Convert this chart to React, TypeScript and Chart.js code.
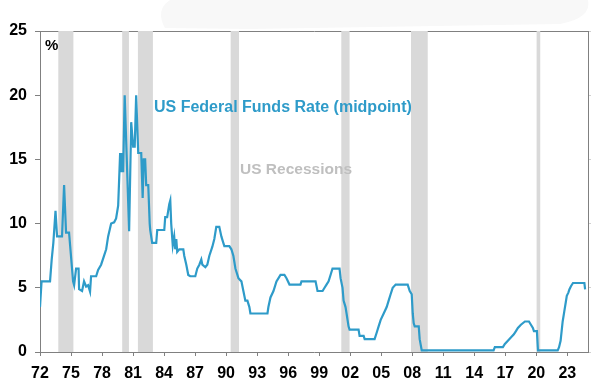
import React, { useEffect, useRef } from "react";
import { Chart, registerables } from "chart.js";

Chart.register(...registerables);

const dates = [
  1972.0, 1972.15, 1972.97, 1973.13, 1973.29, 1973.5, 1973.65, 1974.13, 1974.33, 1974.52,
  1974.81, 1975.2, 1975.3, 1975.49, 1975.73, 1975.78, 1976.07, 1976.26, 1976.46, 1976.65,
  1976.84, 1976.94, 1977.43, 1977.62, 1977.91, 1978.2, 1978.4, 1978.59, 1978.88, 1979.17,
  1979.36, 1979.56, 1979.75, 1979.85, 1979.95, 1980.04, 1980.19, 1980.62, 1980.82, 1981.01,
  1981.16, 1981.3, 1981.5, 1981.79, 1981.93, 1982.03, 1982.17, 1982.27, 1982.47, 1982.61,
  1982.66, 1982.85, 1983.24, 1983.34, 1984.02, 1984.11, 1984.3, 1984.5, 1984.6, 1984.69,
  1984.84, 1984.98, 1985.08, 1985.18, 1985.27, 1985.47, 1985.86, 1985.95, 1986.15, 1986.34,
  1986.53, 1987.02, 1987.21, 1987.41, 1987.6, 1987.7, 1987.99, 1988.18, 1988.38, 1988.67,
  1988.86, 1989.05, 1989.34, 1989.54, 1989.73, 1989.83, 1990.31, 1990.51, 1990.7, 1990.9,
  1991.19, 1991.48, 1991.67, 1991.86, 1992.06, 1992.25, 1992.35, 1994.0, 1994.09, 1994.29,
  1994.58, 1994.87, 1995.26, 1995.64, 1995.84, 1996.13, 1997.19, 1997.29, 1998.65, 1998.84,
  1999.33, 1999.52, 1999.71, 1999.91, 2000.1, 2000.29, 2000.97, 2001.07, 2001.26, 2001.36,
  2001.55, 2001.65, 2001.84, 2001.94, 2002.81, 2002.91, 2003.3, 2003.4, 2004.36, 2004.56,
  2004.75, 2004.95, 2005.24, 2005.53, 2005.72, 2005.91, 2006.11, 2006.4, 2007.56, 2007.76,
  2007.95, 2008.05, 2008.14, 2008.24, 2008.63, 2008.72, 2008.92, 2015.87, 2015.99, 2016.77,
  2016.96, 2017.25, 2017.54, 2017.83, 2018.03, 2018.22, 2018.51, 2018.9, 2019.29, 2019.48,
  2019.67, 2019.77, 2020.06, 2020.16, 2022.07, 2022.2, 2022.35, 2022.45, 2022.55, 2022.7,
  2022.85, 2022.95, 2023.1, 2023.2, 2023.35, 2023.55, 2024.65, 2024.72,
];

const rates = [
  3.5, 5.5, 5.5, 7.2, 8.5, 11, 9, 9, 13, 9.3,
  9.3, 5.5, 5.2, 6.5, 6.5, 4.9, 4.75, 5.5, 5.1, 5.2,
  4.7, 5.9, 5.9, 6.4, 6.8, 7.5, 8.0, 9.0, 10.0, 10.1,
  10.4, 11.4, 15.5, 14, 15.5, 14, 20, 9.4, 17.9, 16,
  16, 20, 15.5, 15.5, 12, 15, 15, 13, 13, 10,
  9.5, 8.5, 8.5, 9.5, 9.5, 10.5, 10.5, 11.5, 11.8, 10,
  8.3, 9, 8, 8.8, 7.8, 8.0, 8.0, 7.5, 6.8, 6.0,
  5.9, 5.9, 6.5, 6.8, 7.2, 6.8, 6.6, 6.8, 7.5, 8.2,
  8.8, 9.75, 9.75, 9.0, 8.5, 8.25, 8.25, 8.0, 7.5, 6.5,
  5.75, 5.5, 4.75, 4.0, 4.0, 3.5, 3.0, 3.0, 3.5, 4.25,
  4.75, 5.5, 6.0, 6.0, 5.75, 5.25, 5.25, 5.5, 5.5, 4.75,
  4.75, 5.0, 5.25, 5.5, 6.0, 6.5, 6.5, 5.75, 5.0, 4.0,
  3.5, 3.0, 2.0, 1.75, 1.75, 1.25, 1.25, 1.0, 1.0, 1.5,
  2.0, 2.5, 3.0, 3.5, 4.0, 4.5, 5.0, 5.25, 5.25, 4.75,
  4.5, 3.0, 2.25, 2.0, 2.0, 1.0, 0.125, 0.125, 0.375, 0.375,
  0.625, 0.875, 1.125, 1.375, 1.625, 1.875, 2.125, 2.375, 2.375, 2.125,
  1.875, 1.625, 1.625, 0.125, 0.125, 0.375, 0.875, 1.625, 2.375, 3.125,
  3.875, 4.375, 4.625, 4.875, 5.125, 5.375, 5.375, 4.875,
];

const recessionStarts = [1973.77, 1979.95, 1981.47, 1990.44, 2001.14, 2007.88, 2020.03];
const recessionEnds = [1975.23, 1980.6, 1982.92, 1991.25, 2001.94, 2009.5, 2020.38];

const xTickYears = [1972, 1975, 1978, 1981, 1984, 1987, 1990, 1993, 1996, 1999, 2002, 2005, 2008, 2011, 2014, 2017, 2020, 2023];
const yTicks = [0, 5, 10, 15, 20, 25];

const seriesLabel = "US Federal Funds Rate (midpoint)";
const recessionLabel = "US Recessions";
const unitLabel = "%";

const FONT = "'Liberation Sans', Arial, sans-serif";
const LINE_COLOR = "#2e9bc9";

export default function App() {
  const ref = useRef<HTMLCanvasElement | null>(null);

  useEffect(() => {
    const canvas = ref.current;
    if (!canvas) return;

    const backdrop = {
      id: "backdrop",
      beforeDraw(chart: any) {
        const ctx = chart.ctx;
        ctx.save();
        ctx.fillStyle = "#f8f8f8";
        ctx.beginPath();
        ctx.moveTo(170, 0);
        ctx.lineTo(588, 0);
        ctx.quadraticCurveTo(592, 18, 560, 24);
        ctx.lineTo(250, 29);
        ctx.lineTo(165, 28);
        ctx.quadraticCurveTo(155, 10, 170, 0);
        ctx.closePath();
        ctx.fill();
        ctx.restore();
      },
    };

    const recessions = {
      id: "recessions",
      beforeDatasetsDraw(chart: any) {
        const { ctx, chartArea, scales } = chart;
        ctx.save();
        ctx.fillStyle = "#d9d9d9";
        for (let i = 0; i < recessionStarts.length; i++) {
          const x0 = scales.x.getPixelForValue(recessionStarts[i]);
          const x1 = scales.x.getPixelForValue(recessionEnds[i]);
          ctx.fillRect(x0, chartArea.top, x1 - x0, chartArea.bottom - chartArea.top);
        }
        ctx.restore();
      },
    };

    const labels = {
      id: "labels",
      afterDraw(chart: any) {
        const { ctx, chartArea } = chart;
        ctx.save();
        ctx.textBaseline = "middle";
        ctx.textAlign = "left";
        ctx.font = `bold 15px ${FONT}`;
        ctx.fillStyle = "#000";
        ctx.fillText(unitLabel, chartArea.left + 5, chartArea.top + 15);
        ctx.font = `bold 16px ${FONT}`;
        ctx.fillStyle = LINE_COLOR;
        ctx.fillText(seriesLabel, chartArea.left + 114, chartArea.top + 77);
        ctx.font = `bold 15.5px ${FONT}`;
        ctx.fillStyle = "#bfbfbf";
        ctx.fillText(recessionLabel, chartArea.left + 200, chartArea.top + 139);
        ctx.restore();
      },
    };

    const chart = new Chart(canvas, {
      type: "line",
      data: {
        datasets: [
          {
            label: seriesLabel,
            data: dates.map((d, i) => ({ x: d, y: rates[i] })),
            borderColor: LINE_COLOR,
            borderWidth: 2.2,
            pointRadius: 0,
            tension: 0,
            fill: false,
          },
        ],
      },
      options: {
        animation: false,
        responsive: false,
        devicePixelRatio: 1,
        layout: { padding: 0 },
        plugins: {
          legend: { display: false },
          tooltip: { enabled: false },
        },
        scales: {
          x: {
            type: "linear",
            position: "bottom",
            min: 1972,
            max: 2025,
            afterBuildTicks: (scale: any) => {
              scale.ticks = xTickYears.map((v) => ({ value: v }));
            },
            afterFit: (scale: any) => {
              scale.height = 36;
            },
            ticks: {
              autoSkip: false,
              maxRotation: 0,
              padding: 8,
              color: "#000",
              font: { family: FONT, size: 16, weight: "bold" },
              callback: (v: any) => String(Math.round(v) % 100).padStart(2, "0"),
            },
            grid: {
              display: true,
              drawOnChartArea: false,
              drawTicks: true,
              tickLength: 4,
              color: "#808080",
            },
            border: { display: true, color: "#808080", width: 1 },
          },
          x2: {
            type: "linear",
            position: "top",
            min: 1972,
            max: 2025,
            afterFit: (scale: any) => {
              scale.height = 31;
            },
            ticks: { display: false },
            grid: { display: false },
            border: { display: true, color: "#808080", width: 1 },
          },
          y: {
            type: "linear",
            position: "left",
            min: 0,
            max: 25,
            afterBuildTicks: (scale: any) => {
              scale.ticks = yTicks.map((v) => ({ value: v }));
            },
            afterFit: (scale: any) => {
              scale.width = 40;
            },
            ticks: {
              padding: 8,
              color: "#000",
              font: { family: FONT, size: 16, weight: "bold" },
            },
            grid: {
              display: true,
              drawOnChartArea: false,
              drawTicks: true,
              tickLength: 5,
              color: "#808080",
            },
            border: { display: true, color: "#808080", width: 1 },
          },
          y2: {
            type: "linear",
            position: "right",
            min: 0,
            max: 25,
            afterBuildTicks: (scale: any) => {
              scale.ticks = yTicks.map((v) => ({ value: v }));
            },
            afterFit: (scale: any) => {
              scale.width = 21;
            },
            ticks: { display: false },
            grid: {
              display: true,
              drawOnChartArea: false,
              drawTicks: true,
              tickLength: 3,
              color: "#d0d0d0",
            },
            border: { display: true, color: "#808080", width: 1 },
          },
        },
      },
      plugins: [backdrop, recessions, labels],
    } as any);

    return () => chart.destroy();
  }, []);

  return (
    <div style={{ position: "absolute", left: 0, top: 0, width: 609, height: 388, background: "#fff" }}>
      <canvas ref={ref} width={609} height={388} style={{ display: "block" }} />
    </div>
  );
}
